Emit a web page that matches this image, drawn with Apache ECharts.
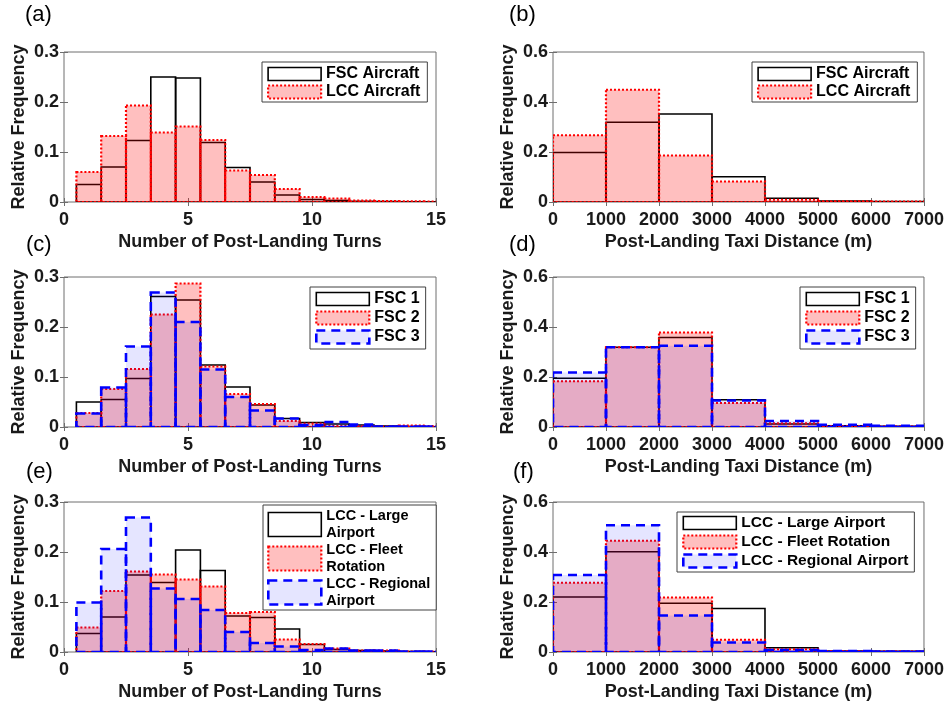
<!DOCTYPE html>
<html>
<head>
<meta charset="utf-8">
<script src="https://cdn.jsdelivr.net/npm/echarts@6/dist/echarts.min.js"></script>
<style>
  html, body { margin: 0; padding: 0; background: #fff; }
  #chart { width: 947px; height: 702px; }
</style>
</head>
<body>
<div id="chart"></div>
<script>
// ---------- data ----------
var turnEdges = [0.5, 1.5, 2.5, 3.5, 4.5, 5.5, 6.5, 7.5, 8.5, 9.5, 10.5, 11.5, 12.5, 13.5, 14.5, 15.5];
var distEdges = [0, 1000, 2000, 3000, 4000, 5000, 6000, 7000];

var a_fsc = [0.035, 0.070, 0.123, 0.250, 0.248, 0.119, 0.069, 0.040, 0.014, 0.005, 0.003, 0.0013, 0.001, 0.0005, 0.0003];
var a_lcc = [0.060, 0.132, 0.193, 0.139, 0.151, 0.124, 0.063, 0.054, 0.026, 0.010, 0.007, 0.003, 0.002, 0.0015, 0.001];

var b_fsc = [0.198, 0.319, 0.352, 0.101, 0.015, 0.004, 0.002];
var b_lcc = [0.267, 0.449, 0.186, 0.082, 0.009, 0.003, 0.002];

var c_fsc1 = [0.050, 0.055, 0.097, 0.261, 0.254, 0.124, 0.080, 0.044, 0.017, 0.009, 0.006, 0.004, 0.002, 0.001, 0.0005];
var c_fsc2 = [0.028, 0.076, 0.116, 0.225, 0.287, 0.121, 0.066, 0.046, 0.012, 0.007, 0.002, 0.002, 0.001, 0.003, 0.002];
var c_fsc3 = [0.027, 0.079, 0.161, 0.269, 0.210, 0.115, 0.060, 0.033, 0.017, 0.004, 0.010, 0.005, 0.0007, 0.001, 0.001];

var d_fsc1 = [0.195, 0.319, 0.358, 0.109, 0.012, 0.005, 0.003];
var d_fsc2 = [0.183, 0.319, 0.378, 0.096, 0.015, 0.004, 0.003];
var d_fsc3 = [0.218, 0.319, 0.325, 0.106, 0.024, 0.009, 0.005];

var e_large = [0.037, 0.070, 0.154, 0.139, 0.204, 0.163, 0.072, 0.069, 0.046, 0.015, 0.005, 0.003, 0.002, 0.001, 0.0005];
var e_fleet = [0.049, 0.122, 0.161, 0.155, 0.145, 0.131, 0.078, 0.080, 0.025, 0.016, 0.007, 0.003, 0.003, 0.001, 0.001];
var e_regional = [0.099, 0.206, 0.269, 0.127, 0.106, 0.084, 0.040, 0.018, 0.011, 0.004, 0.007, 0.003, 0.003, 0.001, 0.001];

var f_large = [0.220, 0.401, 0.195, 0.174, 0.017, 0.004, 0.003];
var f_fleet = [0.277, 0.445, 0.218, 0.049, 0.011, 0.004, 0.003];
var f_regional = [0.308, 0.507, 0.146, 0.038, 0.008, 0.004, 0.002];

var turnsTicks = [0, 5, 10, 15];
var distTicks = [0, 1000, 2000, 3000, 4000, 5000, 6000, 7000];
var freqTicksLeft = [0, 0.1, 0.2, 0.3];
var freqTicksRight = [0, 0.2, 0.4, 0.6];

var panelLabels = ['(a)', '(b)', '(c)', '(d)', '(e)', '(f)'];
var turnsName = 'Number of Post-Landing Turns';
var distName = 'Post-Landing Taxi Distance (m)';
var yName = 'Relative Frequency';

// ---------- styles ----------
var FONT = "'Liberation Sans', Arial, Helvetica, sans-serif";
var AX = '#6e6e6e';
var TXT = '#1a1a1a';
var STY = {
  black: { fill: 'none', stroke: '#000000', lineWidth: 1.6 },
  red:   { fill: 'rgba(255,0,0,0.25)', stroke: '#ff0000', lineWidth: 2.2, lineDash: [2, 2] },
  blue:  { fill: 'rgba(0,0,255,0.10)', stroke: '#0000ff', lineWidth: 2.6, lineDash: [9, 6] }
};
var LEG = {
  black: { color: '#ffffff', borderColor: '#000000', borderWidth: 1.6 },
  red:   { color: 'rgba(255,0,0,0.25)', borderColor: '#ff0000', borderWidth: 2.2, borderType: [2, 2] },
  blue:  { color: 'rgba(0,0,255,0.10)', borderColor: '#0000ff', borderWidth: 2.6, borderType: [9, 6] }
};

var gridPos = [
  { left: 64, top: 52 }, { left: 553, top: 52 },
  { left: 64, top: 277 }, { left: 553, top: 277 },
  { left: 64, top: 502 }, { left: 553, top: 502 }
];
var labelPos = [
  { left: 25, top: 4 }, { left: 509, top: 4 },
  { left: 26, top: 234 }, { left: 509, top: 234 },
  { left: 26, top: 461 }, { left: 513, top: 461 }
];

var grids = [], xAxes = [], yAxes = [], series = [], legends = [], titles = [];

for (var g = 0; g < 6; g++) {
  var isLeft = (g % 2 === 0);
  grids.push({
    left: gridPos[g].left, top: gridPos[g].top,
    width: isLeft ? 372 : 374, height: 150,
    show: true, borderColor: AX, borderWidth: 1, backgroundColor: '#fff'
  });
  var xmax = isLeft ? 15 : 7000;
  var xint = isLeft ? 5 : 1000;
  var ymax = isLeft ? 0.3 : 0.6;
  var yint = isLeft ? 0.1 : 0.2;
  xAxes.push({
    type: 'value', gridIndex: g, position: 'bottom', min: 0, max: xmax, interval: xint,
    name: isLeft ? turnsName : distName, nameLocation: 'middle', nameGap: 31,
    nameTextStyle: { fontSize: 18, fontWeight: 'bold', color: TXT, fontFamily: FONT },
    axisLine: { show: false },
    axisTick: { show: true, inside: true, length: 4, lineStyle: { color: AX } },
    splitLine: { show: false },
    axisLabel: { fontSize: 18, fontWeight: 'bold', color: TXT, fontFamily: FONT, margin: 9,
      formatter: function (v) { return String(v); } }
  });
  xAxes.push({
    type: 'value', gridIndex: g, position: 'top', min: 0, max: xmax, interval: xint,
    axisLine: { show: false },
    axisTick: { show: true, inside: true, length: 4, lineStyle: { color: AX } },
    splitLine: { show: false }, axisLabel: { show: false }
  });
  yAxes.push({
    type: 'value', gridIndex: g, position: 'left', min: 0, max: ymax, interval: yint,
    name: yName, nameLocation: 'middle', nameGap: 36, nameRotate: 90,
    nameTextStyle: { fontSize: 18, fontWeight: 'bold', color: TXT, fontFamily: FONT },
    axisLine: { show: false },
    axisTick: { show: true, inside: true, length: 4, lineStyle: { color: AX } },
    splitLine: { show: false },
    axisLabel: { fontSize: 18, fontWeight: 'bold', color: TXT, fontFamily: FONT, margin: 5 }
  });
  yAxes.push({
    type: 'value', gridIndex: g, position: 'right', min: 0, max: ymax, interval: yint,
    axisLine: { show: false },
    axisTick: { show: true, inside: true, length: 4, lineStyle: { color: AX } },
    splitLine: { show: false }, axisLabel: { show: false }
  });
  titles.push({
    text: panelLabels[g], left: labelPos[g].left, top: labelPos[g].top, padding: 0,
    textStyle: { fontSize: 22, fontWeight: 'normal', color: '#000', fontFamily: FONT }
  });
}

function histSeries(name, g, edges, values, kind, z) {
  var data = values.map(function (v, i) { return [edges[i], edges[i + 1], v]; });
  var st = STY[kind];
  return {
    type: 'custom', name: name, xAxisIndex: 2 * g, yAxisIndex: 2 * g,
    clip: true, z: z, silent: true,
    encode: { x: [0, 1], y: 2 },
    data: data,
    renderItem: function (params, api) {
      var p0 = api.coord([api.value(0), api.value(2)]);
      var p1 = api.coord([api.value(1), 0]);
      return {
        type: 'rect',
        shape: { x: p0[0], y: p0[1], width: p1[0] - p0[0], height: p1[1] - p0[1] },
        style: { fill: st.fill, stroke: st.stroke, lineWidth: st.lineWidth, lineDash: st.lineDash || null }
      };
    }
  };
}

function legendCfg(names, kinds, left, top, opts) {
  opts = opts || {};
  return {
    orient: 'vertical', left: left, top: top,
    data: names.map(function (n, i) { return { name: n, icon: 'rect', itemStyle: LEG[kinds[i]] }; }),
    itemWidth: 53, itemHeight: opts.itemHeight || 13, itemGap: opts.itemGap != null ? opts.itemGap : 2,
    padding: opts.padding || [4, 7, 2, 5],
    borderColor: '#404040', borderWidth: 1, backgroundColor: '#fff',
    selectedMode: false,
    textStyle: { fontSize: opts.fontSize || 16, fontWeight: 'bold', color: '#000', fontFamily: FONT, lineHeight: opts.lineHeight }
  };
}

// (a)
series.push(histSeries('FSC Aircraft', 0, turnEdges, a_fsc, 'black', 2));
series.push(histSeries('LCC Aircraft', 0, turnEdges, a_lcc, 'red', 3));
// (b)
series.push(histSeries('FSC Aircraft', 1, distEdges, b_fsc, 'black', 2));
series.push(histSeries('LCC Aircraft', 1, distEdges, b_lcc, 'red', 3));
// (c)
series.push(histSeries('FSC 1', 2, turnEdges, c_fsc1, 'black', 2));
series.push(histSeries('FSC 2', 2, turnEdges, c_fsc2, 'red', 3));
series.push(histSeries('FSC 3', 2, turnEdges, c_fsc3, 'blue', 4));
// (d)
series.push(histSeries('FSC 1', 3, distEdges, d_fsc1, 'black', 2));
series.push(histSeries('FSC 2', 3, distEdges, d_fsc2, 'red', 3));
series.push(histSeries('FSC 3', 3, distEdges, d_fsc3, 'blue', 4));
// (e)
series.push(histSeries('LCC - Large\nAirport', 4, turnEdges, e_large, 'black', 2));
series.push(histSeries('LCC - Fleet\nRotation', 4, turnEdges, e_fleet, 'red', 3));
series.push(histSeries('LCC - Regional\nAirport', 4, turnEdges, e_regional, 'blue', 4));
// (f)
series.push(histSeries('LCC - Large Airport', 5, distEdges, f_large, 'black', 2));
series.push(histSeries('LCC - Fleet Rotation', 5, distEdges, f_fleet, 'red', 3));
series.push(histSeries('LCC - Regional Airport', 5, distEdges, f_regional, 'blue', 4));

legends.push(legendCfg(['FSC Aircraft', 'LCC Aircraft'], ['black', 'red'], 262, 62, { padding: [4, 7, 2, 5] }));
legends.push(legendCfg(['FSC Aircraft', 'LCC Aircraft'], ['black', 'red'], 752, 62, { padding: [4, 7, 2, 5] }));
legends.push(legendCfg(['FSC 1', 'FSC 2', 'FSC 3'], ['black', 'red', 'blue'], 310, 287, { itemGap: 3, padding: [4, 6, 4, 5] }));
legends.push(legendCfg(['FSC 1', 'FSC 2', 'FSC 3'], ['black', 'red', 'blue'], 800, 287, { itemGap: 3, padding: [4, 6, 4, 5] }));
legends.push(legendCfg(['LCC - Large\nAirport', 'LCC - Fleet\nRotation', 'LCC - Regional\nAirport'], ['black', 'red', 'blue'], 263, 505,
  { itemHeight: 24, itemGap: 1, lineHeight: 16.5, fontSize: 14.5, padding: [3, 6, 1, 4] }));
legends.push(legendCfg(['LCC - Large Airport', 'LCC - Fleet Rotation', 'LCC - Regional Airport'], ['black', 'red', 'blue'], 677, 512,
  { itemGap: 3, fontSize: 15.5, padding: [3, 6, 3, 5] }));

var chart = echarts.init(document.getElementById('chart'), null, { renderer: 'canvas' });
chart.setOption({
  animation: false,
  backgroundColor: '#ffffff',
  title: titles,
  grid: grids,
  xAxis: xAxes,
  yAxis: yAxes,
  legend: legends,
  series: series
});
</script>
</body>
</html>
